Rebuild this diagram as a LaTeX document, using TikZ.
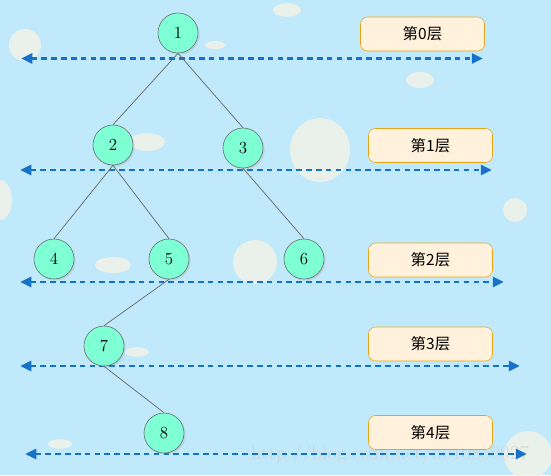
\documentclass[tikz,border=0pt]{standalone}
\usepackage{fontspec}
\usepackage{tikz}
\usetikzlibrary{arrows.meta, shadows}
\newfontfamily\cjk{Noto Sans CJK SC}
\definecolor{bgblue}{RGB}{192,234,252}
\definecolor{nodegreen}{RGB}{127,255,212}
\definecolor{boxfill}{RGB}{255,241,220}
\definecolor{boxline}{RGB}{232,164,20}
\definecolor{arrowblue}{RGB}{22,114,200}
\definecolor{drop}{RGB}{242,242,232}
\tikzset{
  treenode/.style={circle, draw=black!60, fill=nodegreen, minimum size=1cm, inner sep=0pt, font=\large,
    drop shadow={shadow xshift=1.2pt, shadow yshift=-1.2pt, opacity=0.18}},
  layerbox/.style={rounded corners=5pt, draw=boxline, fill=boxfill, minimum width=3.1cm, minimum height=0.85cm,
    font=\cjk\fontsize{11}{13}\selectfont},
  layerline/.style={arrowblue, line width=2pt, dash pattern=on 4pt off 3pt,
    {Triangle[length=8pt,width=7pt]}-{Triangle[length=8pt,width=7pt]}},
  treeedge/.style={draw=black!60, line width=0.5pt},
  dropshape/.style={fill=drop, opacity=0.85}
}

\begin{document}
\begin{tikzpicture}[x=0.025cm, y=-0.025cm]
  % background
  \fill[bgblue] (0,0) rectangle (551,475);
  \useasboundingbox (0,0) rectangle (551,475);
  \foreach \dx/\dy/\rx/\ry in {147/142/0.45/0.22, 113/265/0.45/0.2, 287/10/0.35/0.17, 420/80/0.35/0.2,
      320/150/0.75/0.8, 255/262/0.55/0.55, 25/45/0.4/0.4, 137/352/0.3/0.12, 60/444/0.3/0.12,
      528/455/0.6/0.6, 215/45/0.25/0.1, 0/200/0.3/0.5, 515/210/0.3/0.3}
    \fill[dropshape] (\dx,\dy) ellipse [x radius=\rx cm, y radius=\ry cm];
  \node[text=white!60!gray, opacity=0.6, font=\fontsize{14}{16}\selectfont] (mark) at (390,455) {http://blog.csdn.net/u010850027};

  % levels
  \foreach \i/\y/\xa/\xb in {0/58.5/21/483, 1/170/20/492, 2/282/20/504, 3/366/20/520, 4/454/25/527} {
    \coordinate (la\i) at (\xa,\y);
    \coordinate (lb\i) at (\xb,\y);
    \draw[layerline] (la\i) -- (lb\i);
  }
  \node[layerbox] (lay0) at (422.5,34) {第0层};
  \node[layerbox] (lay1) at (430.5,145.5) {第1层};
  \node[layerbox] (lay2) at (430.5,260) {第2层};
  \node[layerbox] (lay3) at (430.5,344) {第3层};
  \node[layerbox] (lay4) at (430.5,432.5) {第4层};

  % tree
  \node[treenode] (n1) at (178,33) {1};
  \node[treenode] (n2) at (113,145) {2};
  \node[treenode] (n3) at (243,148) {3};
  \node[treenode] (n4) at (54,259) {4};
  \node[treenode] (n5) at (169,259) {5};
  \node[treenode] (n6) at (304,259) {6};
  \node[treenode] (n7) at (104,346) {7};
  \node[treenode] (n8) at (164,433) {8};
  \draw[treeedge] (n1.south) -- (n2.north);
  \draw[treeedge] (n1.south) -- (n3.north);
  \draw[treeedge] (n2.south) -- (n4.north);
  \draw[treeedge] (n2.south) -- (n5.north);
  \draw[treeedge] (n3.south) -- (n6.north);
  \draw[treeedge] (n5.south) -- (n7.north);
  \draw[treeedge] (n7.south) -- (n8.north);
\end{tikzpicture}
\end{document}
